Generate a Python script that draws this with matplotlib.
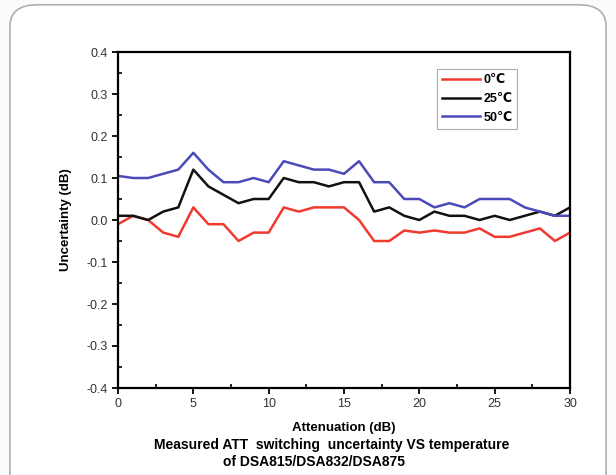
import numpy as np
import matplotlib.pyplot as plt
from matplotlib.patches import FancyBboxPatch
from matplotlib.ticker import MultipleLocator

plt.rcParams['font.family'] = ['Liberation Sans', 'DejaVu Sans']

# Attenuation steps (dB)
atten = np.arange(0, 31)

# uncertainty (dB) at each temperature
t0 = [-0.01, 0.01, 0.00, -0.03, -0.04, 0.03, -0.01, -0.01, -0.05, -0.03, -0.03,
      0.03, 0.02, 0.03, 0.03, 0.03, 0.00, -0.05, -0.05, -0.025, -0.03,
      -0.025, -0.03, -0.03, -0.02, -0.04, -0.04, -0.03, -0.02, -0.05, -0.03]
t25 = [0.01, 0.01, 0.00, 0.02, 0.03, 0.12, 0.08, 0.06, 0.04, 0.05, 0.05,
       0.10, 0.09, 0.09, 0.08, 0.09, 0.09, 0.02, 0.03, 0.01, 0.00,
       0.02, 0.01, 0.01, 0.00, 0.01, 0.00, 0.01, 0.02, 0.01, 0.03]
t50 = [0.105, 0.10, 0.10, 0.11, 0.12, 0.16, 0.12, 0.09, 0.09, 0.10, 0.09,
       0.14, 0.13, 0.12, 0.12, 0.11, 0.14, 0.09, 0.09, 0.05, 0.05,
       0.03, 0.04, 0.03, 0.05, 0.05, 0.05, 0.03, 0.02, 0.01, 0.01]
labels = ['0\u2103', '25\u2103', '50\u2103']
colors = ['#f03a30', '#111111', '#4b4bb8']
yticks = [-0.4, -0.3, -0.2, -0.1, 0.0, 0.1, 0.2, 0.3, 0.4]

fig = plt.figure(figsize=(6.16, 4.75), dpi=100)
fig.patch.set_facecolor('#fbfbfb')

# rounded frame around the figure
box = FancyBboxPatch((10 / 616, -0.1), 596 / 616, 1.09, boxstyle='round,pad=0,rounding_size=0.045',
                     transform=fig.transFigure, facecolor='white', edgecolor='#a8b0b8', lw=1.2,
                     zorder=-10)
fig.patches.append(box)

ax = fig.add_axes([118 / 616, 1 - 388 / 475, 452 / 616, 336 / 475])
for y, lab, c in zip([t0, t25, t50], labels, colors):
    ax.plot(atten, y, color=c, lw=1.8, label=lab)

ax.set_xlim(0, 30)
ax.set_ylim(-0.4, 0.4)
ax.xaxis.set_major_locator(MultipleLocator(5))
ax.xaxis.set_minor_locator(MultipleLocator(2.5))
ax.yaxis.set_minor_locator(MultipleLocator(0.05))
ax.set_yticks(yticks)
ax.set_yticklabels([f'{v:.1f}' for v in yticks])
ax.tick_params(which='major', direction='out', length=4, width=1.3, labelsize=9,
               labelcolor='#333333')
ax.tick_params(which='minor', direction='in', length=3, width=1.2)
for s in ax.spines.values():
    s.set_linewidth(1.6)

ax.set_xlabel('Attenuation (dB)', fontsize=9.5, fontweight='bold', labelpad=8)
ax.set_ylabel('Uncertainty (dB)', fontsize=9.5, fontweight='bold', labelpad=10)

leg = ax.legend(loc='upper left', bbox_to_anchor=(319 / 452, 1 - 17 / 336),
                prop={'weight': 'bold', 'size': 9}, frameon=True, fancybox=False,
                handlelength=3.0, handletextpad=0.3, borderpad=0.4, labelspacing=0.55,
                borderaxespad=0)
leg.get_frame().set_edgecolor('#999999')
leg.get_frame().set_linewidth(0.8)

fig.text(332 / 616, 1 - 445 / 475, 'Measured ATT  switching  uncertainty VS temperature',
         ha='center', va='center', fontsize=10, fontweight='bold')
fig.text(314 / 616, 1 - 462 / 475, 'of DSA815/DSA832/DSA875',
         ha='center', va='center', fontsize=10, fontweight='bold')

fig.savefig('out.png', dpi=100, facecolor=fig.get_facecolor())
